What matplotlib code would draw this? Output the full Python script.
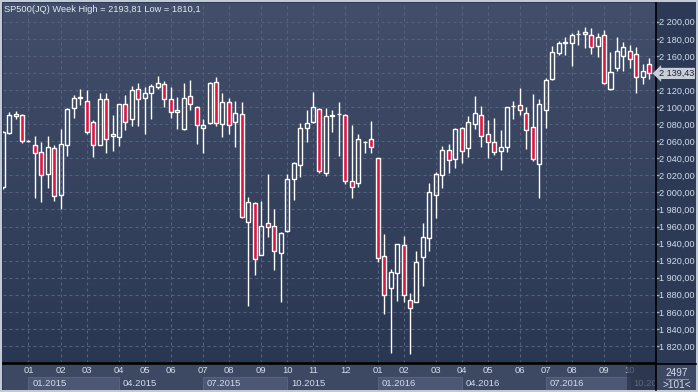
import matplotlib
matplotlib.use('Agg')
import matplotlib.pyplot as plt
import numpy as np
from matplotlib.patches import Rectangle
from matplotlib.colors import LinearSegmentedColormap
from matplotlib.lines import Line2D

# weekly SP500 candles (oldest first)
opens = [2006, 2070, 2089.5, 2091, 2060, 2056, 2047, 2022, 2052, 1997,
         2055, 2098.5, 2110.5, 2107, 2082, 2056, 2109, 2066, 2065, 2103.5,
         2086, 2121, 2111, 2117, 2123, 2127, 2110, 2094, 2074, 2113,
         2100, 2075, 2081, 2129, 2080, 2106, 2082, 2092, 1965.5, 1987,
         1927, 1963.7, 1961, 1929, 1955, 2016, 2032, 2076, 2082, 2098,
         2023, 2090, 2091.5, 2091, 2013.5, 2011, 2059, 2062, 2040, 1926,
         1888, 1906, 1938, 1873.7, 1872, 1924.5, 1947, 1996.5, 2020, 2049.6,
         2039, 2075, 2052, 2080, 2090.6, 2068, 2058.6, 2048, 2053.5, 2101,
         2102, 2092.6, 2077, 2033, 2096, 2133, 2163.7, 2175, 2174.7, 2185.2,
         2187.6, 2184.4, 2172, 2184, 2121.5, 2145.4, 2160, 2166, 2162, 2134.8,
         2150]
highs = [2072, 2094, 2095, 2092, 2061, 2066, 2059, 2066, 2056, 2074,
         2099, 2114, 2121, 2120, 2085, 2116, 2116, 2091, 2104, 2114,
         2125, 2128, 2123, 2127, 2136, 2130, 2123, 2112, 2128.5, 2132,
         2101, 2086, 2129, 2135, 2116, 2111, 2107, 2106, 1995, 1989,
         1990, 2022, 1980, 1953, 2021.5, 2036, 2081, 2096.5, 2118, 2099,
         2098.5, 2097, 2105.5, 2092, 2079, 2069, 2060, 2084, 2040, 1951,
         1909.7, 1940, 1949, 1882.3, 1931, 1964, 2010.6, 2024, 2054, 2057,
         2076, 2077, 2089, 2113, 2101, 2085, 2087, 2073, 2100.5, 2107.5,
         2122, 2100, 2115, 2110, 2134, 2171.5, 2177.5, 2182.5, 2186.4, 2190,
         2193.8, 2193, 2186.4, 2190, 2165, 2181.7, 2176.6, 2172.7, 2171, 2150,
         2157]
lows = [2004, 2068, 2086, 2058, 2059, 1993, 1989, 2005, 1990, 1981,
        2043, 2087, 2102, 2068, 2041, 2055, 2046, 2049, 2054, 2073,
        2078, 2078, 2068, 2086, 2121, 2100, 2087, 2074, 2073, 2097,
        2057, 2046, 2080, 2078, 2064.5, 2069, 2053, 1970, 1867, 1903,
        1927, 1948, 1909, 1871, 1954, 1991, 2018, 2059, 2081, 2023,
        2019.5, 2071, 2042.5, 2010, 1994, 2006.6, 2046, 2046, 1918.6, 1857,
        1812, 1873, 1872, 1810.1, 1871, 1890.5, 1931.5, 1969.5, 2005, 2023,
        2029, 2035, 2041, 2074, 2053.5, 2040.6, 2044, 2026, 2047.6, 2086,
        2090.6, 2051, 2037, 1993, 2075, 2132, 2161, 2161, 2148.4, 2173,
        2169.5, 2162, 2159, 2127.5, 2120, 2142.6, 2142.6, 2145.4, 2116, 2126.6,
        2133]
closes = [2071, 2091, 2092, 2060, 2060.5, 2046, 2020, 2053, 1996, 2057,
          2098, 2111, 2112, 2071, 2055, 2110, 2062, 2068, 2103.5, 2082,
          2120, 2110, 2117, 2125, 2128, 2109, 2094, 2096, 2111, 2103.5,
          2079, 2079, 2128.5, 2081, 2105.5, 2079, 2093, 1971, 1989, 1921.5,
          1961, 1959, 1931.5, 1952, 2016, 2034, 2076, 2081, 2100, 2024.6,
          2090, 2091, 2092, 2013, 2006, 2062, 2059.5, 2053, 1923, 1880,
          1907, 1939, 1880, 1864.7, 1918, 1948, 2000, 2022, 2050, 2038,
          2074, 2049, 2082, 2093, 2066, 2058.6, 2047.6, 2053.5, 2100, 2101.5,
          2097, 2073, 2038.7, 2104, 2132, 2165, 2175.5, 2176, 2185, 2186,
          2185.2, 2170.7, 2181.7, 2128.5, 2141, 2166, 2170, 2156, 2135, 2142.6,
          2139.43]

month_idx = [4, 9, 13, 18, 22, 26, 31, 35, 40, 44, 48, 53,
             58, 62, 67, 71, 75, 80, 84, 88, 93, 97]
month_labels = ['01', '02', '03', '04', '05', '06', '07', '08', '09', '10', '11', '12',
                '01', '02', '03', '04', '05', '06', '07', '08', '09', '10']
# last quarter label is cut off by the price scale in the original
quarter_labels = ['01.2015', '04.2015', '07.2015', '10.2015',
                  '01.2016', '04.2016', '07.2016', '10.20']

title = 'SP500(JQ) Week High = 2193,81 Low = 1810,1'
last_price = '2 139,43'

W, H = 698, 392
X0, DX = 2.6, 6.467  # pixel of first candle, pixels per candle


def px_rect(x0, y0, x1, y1):
    return [x0 / W, 1 - y1 / H, (x1 - x0) / W, (y1 - y0) / H]


def px2idx(px):
    return (px - X0) / DX


plt.rcParams['font.family'] = ['Liberation Sans', 'DejaVu Sans']
fig = plt.figure(figsize=(W / 100, H / 100), dpi=100)
fig.patch.set_facecolor('#c3cad6')
fig.add_artist(Rectangle((2 / W, 2 / H), 694 / W, 388 / H, transform=fig.transFigure,
                         facecolor='#2d3a55', edgecolor='none', zorder=0))
# bottom-right counter box
fig.add_artist(Rectangle(px_rect(656, 364, 696, 390)[:2], 40 / W, 26 / H,
                         transform=fig.transFigure, facecolor='#3d4963',
                         edgecolor='none', zorder=0))

red = '#e3133f'
text_col = '#d3dcec'
grid_col = '#56627d'

ax = fig.add_axes(px_rect(3, 3, 656, 363))
xmin, xmax = px2idx(3), px2idx(656)
ymin, ymax = 1800, 2222
ax.set_xlim(xmin, xmax)
ax.set_ylim(ymin, ymax)

grad = np.linspace(0, 1, 256).reshape(-1, 1)
cmap = LinearSegmentedColormap.from_list('bg', ['#424e6a', '#2a3752'])
ax.imshow(grad, cmap=cmap, extent=[xmin, xmax, ymin, ymax], aspect='auto',
          origin='upper', zorder=0)

levels = np.arange(1820, 2201, 20)
ax.hlines(levels, xmin, xmax, colors=grid_col, lw=0.8, linestyles=(0, (2.7, 2.7)), zorder=1)
ax.vlines(month_idx, ymin, ymax, colors=grid_col, lw=0.8, linestyles=(0, (2.7, 2.7)), zorder=1)

o = np.array(opens); h = np.array(highs); l = np.array(lows); c = np.array(closes)
x = np.arange(len(o))
top = np.maximum(o, c)
bot = np.minimum(o, c)
ax.vlines(x, top, h, colors='white', lw=1, zorder=3)
ax.vlines(x, l, bot, colors='white', lw=1, zorder=3)
fills = [red if cc < oo else 'none' for oo, cc in zip(o, c)]
ax.bar(x, np.maximum(top - bot, 0.5), width=0.62, bottom=bot, color=fills,
       edgecolor='white', linewidth=1, zorder=4)

ax.set_xticks([])
ax.yaxis.tick_right()
ax.set_yticks(levels)
ax.set_yticklabels(['' if v == 2140 else f'{v // 1000} {v % 1000:03d},00' for v in levels])
ax.tick_params(axis='y', colors='#9fb4d6', labelcolor=text_col, labelsize=6.6,
               length=2, width=1, pad=0.3, direction='out')
for s in ['top', 'left']:
    ax.spines[s].set_visible(False)
for s in ['right', 'bottom']:
    ax.spines[s].set_color('black')
    ax.spines[s].set_linewidth(1.2)

ax.text(1.004, (2139.43 - ymin) / (ymax - ymin), last_price, transform=ax.transAxes,
        ha='left', va='center', fontsize=6.6, color='#1b2233',
        bbox=dict(boxstyle='larrow,pad=0.12', facecolor='#c9ced8', edgecolor='none'))

# bottom time panel
bax = fig.add_axes(px_rect(3, 364, 655, 390))
bax.set_facecolor('#3d4963')
bxmax = px2idx(655)
bax.set_xlim(xmin, bxmax)
bax.set_ylim(0, 1)
bax.set_xticks([]); bax.set_yticks([])
for s in bax.spines.values():
    s.set_visible(False)

for mi, lab in zip(month_idx, month_labels):
    bax.text(mi, 0.76, lab, ha='center', va='center', fontsize=6.8, color=text_col)

q_idx = month_idx[::3]
q_end = q_idx[1:] + [bxmax]
for k, (qs, qe, lab) in enumerate(zip(q_idx, q_end, quarter_labels)):
    if k % 2 == 0 and k < 7:
        bax.add_patch(Rectangle((qs, 0), qe - qs, 0.5, facecolor='#4b5773',
                                edgecolor='#5a6682', lw=0.6, zorder=1))
    bax.text(qs + 0.6, 0.25, lab, ha='left', va='center', fontsize=6.8,
             color=text_col, zorder=2, clip_on=True)

bax.add_patch(Rectangle((px2idx(627), 0), bxmax - px2idx(627), 1,
                        facecolor='#273249', alpha=0.7, edgecolor='none', zorder=3))

fig.add_artist(Line2D([3 / W, 696 / W], [1 - 363.5 / H] * 2, color='black', lw=1.2))
fig.add_artist(Line2D([656 / W] * 2, [1 - 363 / H, 1 - 390 / H], color='black', lw=1.2))
fig.add_artist(Line2D([666 / W, 688 / W], [1 - 378.5 / H] * 2, color='#7d8cab', lw=0.8))
fig.text(677 / W, 1 - 372.5 / H, '2497', ha='center', va='center', fontsize=7.2, color=text_col)
fig.text(677 / W, 1 - 384.5 / H, '>101<', ha='center', va='center', fontsize=7.2, color=text_col)

fig.text(4 / W, 1 - 9.5 / H, title, ha='left', va='center', fontsize=6.7, color='#e4eaf4')

fig.savefig('out.png', dpi=100, facecolor=fig.get_facecolor())
